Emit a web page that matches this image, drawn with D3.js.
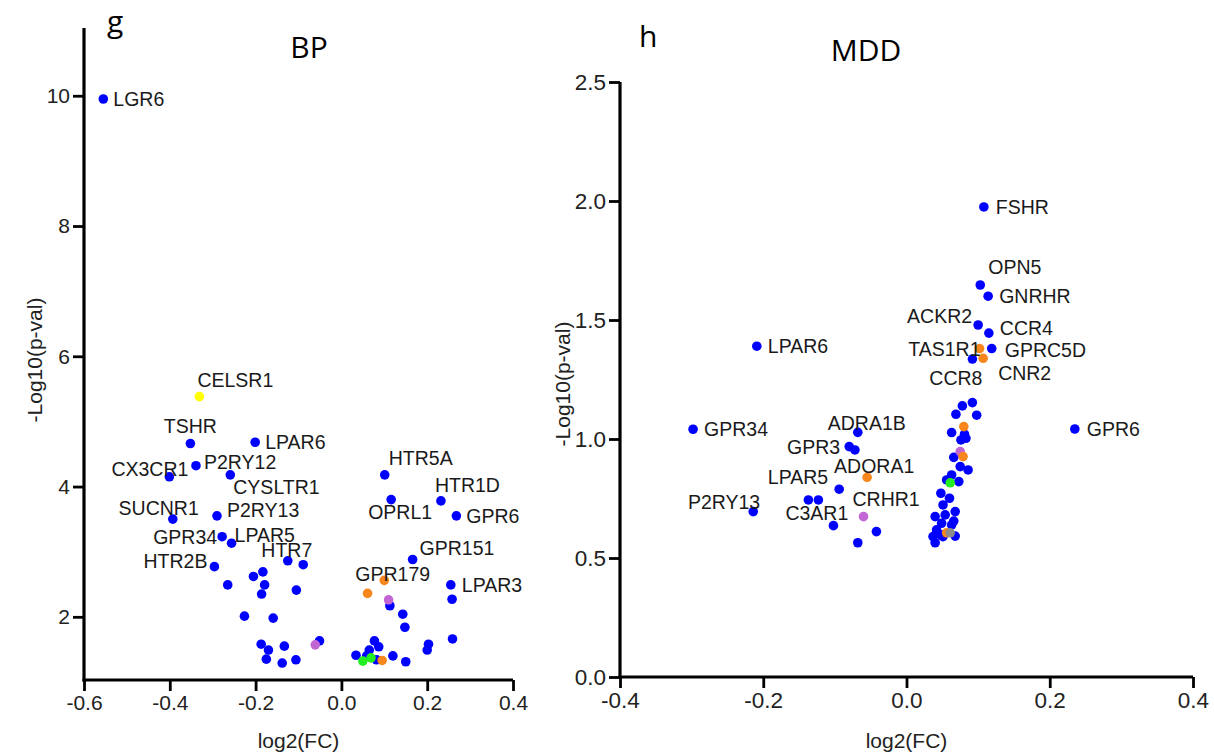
<!DOCTYPE html>
<html>
<head>
<meta charset="utf-8">
<script src="https://cdn.jsdelivr.net/npm/d3@7"></script>
<style>
  body { margin: 0; background: #fff; }
  svg { display: block; }
</style>
</head>
<body>
<div id="chart"></div>
<script>
// [name, log2(FC), -log10(p), group]  name '' = unlabelled
var bpPoints = [
  ['LGR6', -0.555, 9.95, 'b'], ['CELSR1', -0.331, 5.38, 'y'], ['TSHR', -0.352, 4.66, 'b'],
  ['LPAR6', -0.201, 4.68, 'b'], ['P2RY12', -0.339, 4.32, 'b'], ['CX3CR1', -0.401, 4.15, 'b'],
  ['CYSLTR1', -0.259, 4.18, 'b'], ['SUCNR1', -0.393, 3.50, 'b'], ['P2RY13', -0.290, 3.55, 'b'],
  ['GPR34', -0.278, 3.23, 'b'], ['LPAR5', -0.256, 3.13, 'b'], ['HTR2B', -0.296, 2.77, 'b'],
  ['HTR7', -0.125, 2.86, 'b'], ['', -0.089, 2.80, 'b'], ['', -0.205, 2.62, 'b'],
  ['', -0.183, 2.69, 'b'], ['', -0.265, 2.49, 'b'], ['', -0.179, 2.49, 'b'],
  ['', -0.186, 2.35, 'b'], ['', -0.105, 2.41, 'b'], ['', -0.226, 2.01, 'b'],
  ['', -0.159, 1.98, 'b'], ['', -0.187, 1.58, 'b'], ['', -0.170, 1.49, 'b'],
  ['', -0.133, 1.55, 'b'], ['', -0.175, 1.35, 'b'], ['', -0.138, 1.29, 'b'],
  ['', -0.106, 1.34, 'b'], ['', -0.051, 1.63, 'b'], ['', -0.061, 1.57, 'p'],
  ['', 0.034, 1.41, 'b'], ['HTR5A', 0.101, 4.18, 'b'], ['OPRL1', 0.116, 3.80, 'b'],
  ['HTR1D', 0.232, 3.78, 'b'], ['GPR6', 0.268, 3.55, 'b'], ['GPR151', 0.166, 2.88, 'b'],
  ['GPR179', 0.100, 2.56, 'o'], ['', 0.061, 2.36, 'o'], ['', 0.113, 2.17, 'b'],
  ['', 0.110, 2.26, 'p'], ['LPAR3', 0.255, 2.49, 'b'], ['', 0.258, 2.27, 'b'],
  ['', 0.143, 2.04, 'b'], ['', 0.148, 1.84, 'b'], ['', 0.259, 1.66, 'b'],
  ['', 0.203, 1.58, 'b'], ['', 0.200, 1.49, 'b'], ['', 0.150, 1.31, 'b'],
  ['', 0.120, 1.40, 'b'], ['', 0.077, 1.63, 'b'], ['', 0.087, 1.54, 'b'],
  ['', 0.065, 1.49, 'b'], ['', 0.082, 1.34, 'b'], ['', 0.059, 1.40, 'b'],
  ['', 0.050, 1.32, 'g'], ['', 0.069, 1.37, 'g'], ['', 0.095, 1.33, 'o']
];

var mddPoints = [
  ['FSHR', 0.108, 1.975, 'b'], ['OPN5', 0.103, 1.647, 'b'], ['GNRHR', 0.114, 1.60, 'b'],
  ['ACKR2', 0.100, 1.479, 'b'], ['CCR4', 0.115, 1.445, 'b'], ['GPRC5D', 0.119, 1.38, 'b'],
  ['TAS1R1', 0.102, 1.38, 'o'], ['CNR2', 0.107, 1.339, 'o'], ['CCR8', 0.092, 1.336, 'b'],
  ['', 0.092, 1.153, 'b'], ['', 0.078, 1.139, 'b'], ['', 0.098, 1.100, 'b'],
  ['', 0.069, 1.104, 'b'], ['', 0.080, 1.052, 'o'], ['', 0.063, 1.027, 'b'],
  ['', 0.081, 1.020, 'b'], ['', 0.076, 0.996, 'b'], ['', 0.083, 1.003, 'b'],
  ['', 0.075, 0.947, 'p'], ['', 0.079, 0.926, 'o'], ['', 0.066, 0.923, 'b'],
  ['', 0.075, 0.884, 'b'], ['', 0.086, 0.870, 'b'], ['', 0.063, 0.849, 'b'],
  ['', 0.073, 0.821, 'b'], ['', 0.056, 0.828, 'b'], ['', 0.061, 0.816, 'g'],
  ['', 0.048, 0.772, 'b'], ['', 0.060, 0.751, 'b'], ['', 0.051, 0.723, 'b'],
  ['', 0.068, 0.695, 'b'], ['', 0.054, 0.681, 'b'], ['', 0.040, 0.674, 'b'],
  ['', 0.049, 0.646, 'b'], ['', 0.063, 0.639, 'b'], ['', 0.066, 0.655, 'b'],
  ['', 0.042, 0.618, 'b'], ['', 0.048, 0.597, 'b'], ['', 0.037, 0.590, 'b'],
  ['', 0.040, 0.564, 'b'], ['', 0.051, 0.590, 'b'], ['', 0.068, 0.592, 'b'],
  ['', 0.056, 0.606, 'o'], ['', 0.061, 0.606, 'k'],
  ['LPAR6', -0.209, 1.39, 'b'], ['GPR34', -0.298, 1.041, 'b'], ['ADRA1B', -0.068, 1.028, 'b'],
  ['GPR3', -0.080, 0.968, 'b'], ['', -0.072, 0.954, 'b'], ['ADORA1', -0.055, 0.839, 'o'],
  ['LPAR5', -0.094, 0.789, 'b'], ['', -0.137, 0.744, 'b'], ['', -0.123, 0.744, 'b'],
  ['P2RY13', -0.214, 0.695, 'b'], ['C3AR1', -0.102, 0.636, 'b'], ['CRHR1', -0.060, 0.674, 'p'],
  ['', -0.042, 0.611, 'b'], ['', -0.068, 0.564, 'b'], ['GPR6', 0.235, 1.042, 'b']
];

var bpXTicks = [-0.6, -0.4, -0.2, 0.0, 0.2, 0.4];
var bpYTicks = [2, 4, 6, 8, 10];
var mddXTicks = [-0.4, -0.2, 0.0, 0.2, 0.4];
var mddYTicks = [0.0, 0.5, 1.0, 1.5, 2.0, 2.5];

// label placement: dx, dy (text centre), anchor
var bpLabelPos = {
  LGR6: [10, 0, 'start'], CELSR1: [-2, -17, 'start'], TSHR: [0, -18, 'middle'],
  LPAR6: [10, 0, 'start'], P2RY12: [8, -4, 'start'], CX3CR1: [19, -8, 'end'],
  CYSLTR1: [3, 12, 'start'], SUCNR1: [26, -11, 'end'], P2RY13: [10, -6, 'start'],
  GPR34: [-5, 0, 'end'], LPAR5: [3, -8, 'start'], HTR2B: [-7, -6, 'end'],
  HTR7: [-1, -11, 'middle'], HTR5A: [4, -17, 'start'], OPRL1: [-23, 12, 'start'],
  HTR1D: [-6, -16, 'start'], GPR6: [10, 0, 'start'], GPR151: [7, -12, 'start'],
  GPR179: [-29, -6, 'start'], LPAR3: [11, 0, 'start']
};
var mddLabelPos = {
  FSHR: [12, 0, 'start'], OPN5: [8, -18, 'start'], GNRHR: [11, 0, 'start'],
  ACKR2: [-6, -9, 'end'], CCR4: [11, -5, 'start'], GPRC5D: [13, 1, 'start'],
  TAS1R1: [1, 0, 'end'], CNR2: [15, 15, 'start'], CCR8: [10, 19, 'end'],
  LPAR6: [11, 0, 'start'], GPR34: [11, 0, 'start'], ADRA1B: [-30, -9, 'start'],
  GPR3: [-9, 0, 'end'], ADORA1: [-33, -11, 'start'], LPAR5: [-11, -12, 'end'],
  P2RY13: [7, -10, 'end'], C3AR1: [-48, -13, 'start'], CRHR1: [-11, -18, 'start'],
  GPR6: [12, 0, 'start']
};

var groupColor = {
  b: '#0000ff', o: '#f7861c', p: '#c266d6', g: '#22ee22', y: '#ffff00', k: '#8c8c8c'
};

var W = 1214, H = 756;
var font = 'Liberation Sans, Arial, sans-serif';

var svg = d3.select('#chart').append('svg')
  .attr('width', W)
  .attr('height', H);

// tick labels use a plain hyphen, as in the original figure
function hyphen(fmt) {
  return function (d) { return fmt(d).replace('\u2212', '-'); };
}

function drawPanel(opts) {
  var x = d3.scaleLinear().domain(opts.xDomain).range(opts.xRange);
  var y = d3.scaleLinear().domain(opts.yDomain).range(opts.yRange);
  var g = svg.append('g');

  var xAxis = d3.axisBottom(x).tickValues(opts.xTicks).tickSize(11).tickPadding(4)
    .tickFormat(hyphen(d3.format('.1f')));
  var yAxis = d3.axisLeft(y).tickValues(opts.yTicks).tickSize(11).tickPadding(3)
    .tickFormat(hyphen(opts.yFormat));

  var xg = g.append('g').attr('transform', 'translate(0,' + opts.yRange[0] + ')').call(xAxis);
  var yg = g.append('g').attr('transform', 'translate(' + opts.xRange[0] + ',0)').call(yAxis);

  [xg, yg].forEach(function (ax) {
    ax.select('.domain').style('stroke', '#000').style('stroke-width', '3.2px');
    ax.selectAll('.tick line').style('stroke', '#000').style('stroke-width', '2.8px');
    ax.selectAll('.tick text')
      .attr('fill', '#222')
      .style('font-family', font)
      .style('font-size', opts.tickFont);
  });
  // drop the outer tick stubs of the domain path
  xg.select('.domain').attr('d', 'M' + (opts.xRange[0] - 1.5) + ',0H' + opts.xRange[1]);
  yg.select('.domain').attr('d', 'M0,' + (opts.yRange[0] + 1.5) + 'V' + opts.yRange[1]);

  // points: blue underneath, colour groups on top
  var pts = opts.points.slice().sort(function (a, b) {
    return (a[3] === 'b' ? 0 : 1) - (b[3] === 'b' ? 0 : 1);
  });
  g.append('g').selectAll('circle')
    .data(pts)
    .join('circle')
    .attr('cx', function (d) { return x(d[1]); })
    .attr('cy', function (d) { return y(d[2]); })
    .attr('r', 4.8)
    .attr('fill', function (d) { return groupColor[d[3]]; });

  g.append('g').selectAll('text')
    .data(opts.points.filter(function (d) { return d[0] !== ''; }))
    .join('text')
    .attr('x', function (d) { return x(d[1]) + opts.labels[d[0]][0]; })
    .attr('y', function (d) { return y(d[2]) + opts.labels[d[0]][1]; })
    .attr('text-anchor', function (d) { return opts.labels[d[0]][2]; })
    .attr('dominant-baseline', 'central')
    .style('font-family', font)
    .style('font-size', '19.5px')
    .attr('fill', '#1a1a1a')
    .text(function (d) { return d[0]; });

  // axis titles
  g.append('text')
    .attr('x', (opts.xRange[0] + opts.xRange[1]) / 2)
    .attr('y', 748)
    .attr('text-anchor', 'middle')
    .style('font-family', font)
    .style('font-size', '21px')
    .attr('fill', '#222')
    .text('log2(FC)');
  g.append('text')
    .attr('transform', 'translate(' + opts.yTitleX + ',' + opts.yTitleY + ') rotate(-90)')
    .attr('text-anchor', 'middle')
    .attr('dominant-baseline', 'central')
    .style('font-family', font)
    .style('font-size', '21px')
    .attr('fill', '#222')
    .text('-Log10(p-val)');

  // panel letter and title
  g.append('text')
    .attr('x', opts.letterX).attr('y', opts.letterY)
    .style('font-family', 'Open Sans, sans-serif')
    .style('font-size', '30px')
    .text(opts.letter);
  g.append('text')
    .attr('x', opts.titleX).attr('y', opts.titleY)
    .attr('text-anchor', 'middle')
    .style('font-family', 'Open Sans, sans-serif')
    .style('font-size', '30px')
    .text(opts.title);
}

drawPanel({
  points: bpPoints, labels: bpLabelPos,
  xDomain: [-0.6, 0.4], xRange: [84, 513],
  yDomain: [1.03, 11.04], yRange: [680, 28],
  xTicks: bpXTicks, yTicks: bpYTicks, yFormat: d3.format('d'),
  tickFont: '21px',
  yTitleX: 34, yTitleY: 360,
  letter: 'g', letterX: 107, letterY: 32,
  title: 'BP', titleX: 309, titleY: 58
});

drawPanel({
  points: mddPoints, labels: mddLabelPos,
  xDomain: [-0.4, 0.4], xRange: [620, 1193],
  yDomain: [0, 2.5], yRange: [677, 82],
  xTicks: mddXTicks, yTicks: mddYTicks, yFormat: d3.format('.1f'),
  tickFont: '22.5px',
  yTitleX: 562, yTitleY: 384,
  letter: 'h', letterX: 639, letterY: 47,
  title: 'MDD', titleX: 866, titleY: 61
});
</script>
</body>
</html>
